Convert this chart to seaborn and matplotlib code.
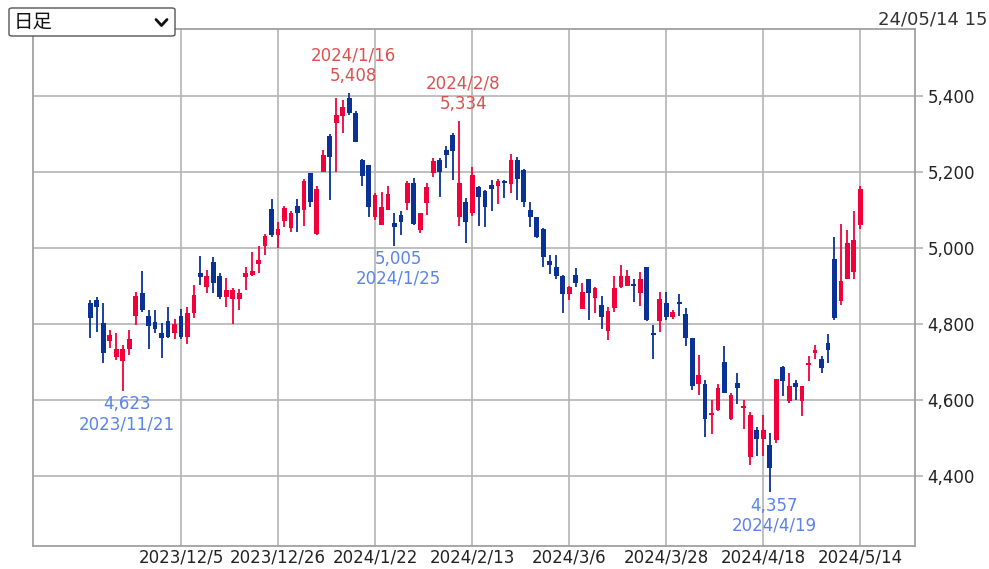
import numpy as np
import pandas as pd
import matplotlib
matplotlib.use("Agg")
import matplotlib.pyplot as plt
import seaborn as sns
from matplotlib.patches import FancyBboxPatch
from matplotlib.lines import Line2D

# trading days (TSE holidays removed)
holidays = ["2023-11-23", "2024-01-01", "2024-01-02", "2024-01-03", "2024-01-08",
            "2024-02-12", "2024-02-23", "2024-03-20", "2024-04-29", "2024-05-03",
            "2024-05-06"]
dates = pd.bdate_range("2023-11-14", "2024-05-14", freq="C", holidays=holidays)

opens = [4856, 4863, 4802, 4755, 4714, 4703, 4734, 4821, 4881, 4821,
         4806, 4777, 4809, 4777, 4821, 4765, 4828, 4933, 4898, 4962,
         4925, 4872, 4867, 4867, 4924, 4928, 4958, 5004, 5102, 5034,
         5072, 5052, 5111, 5100, 5198, 5037, 5201, 5295, 5328, 5346,
         5394, 5354, 5232, 5218, 5082, 5061, 5100, 5065, 5087, 5118,
         5170, 5047, 5118, 5196, 5232, 5258, 5297, 5082, 5122, 5091,
         5161, 5151, 5165, 5163, 5177, 5168, 5232, 5205, 5100, 5082,
         5049, 4967, 4951, 4925, 4879, 4929, 4839, 4918, 4868, 4849,
         4782, 4841, 4898, 4900, 4905, 4881, 4949, 4777, 4809, 4854,
         4819, 4859, 4826, 4762, 4642, 4642, 4560, 4574, 4701, 4551,
         4646, 4579, 4451, 4521, 4497, 4482, 4495, 4688, 4598, 4646,
         4598, 4691, 4723, 4707, 4749, 4970, 4861, 4919, 4938, 5061]
highs = [4862, 4872, 4854, 4785, 4777, 4745, 4784, 4885, 4940, 4837,
         4837, 4802, 4845, 4812, 4839, 4846, 4903, 4979, 4942, 4977,
         4933, 4920, 4894, 4891, 4950, 4990, 5005, 5037, 5128, 5069,
         5111, 5098, 5128, 5181, 5198, 5163, 5258, 5300, 5394, 5389,
         5408, 5359, 5233, 5218, 5144, 5148, 5163, 5093, 5096, 5175,
         5183, 5091, 5172, 5236, 5236, 5267, 5303, 5334, 5131, 5214,
         5163, 5153, 5179, 5181, 5179, 5247, 5240, 5207, 5122, 5082,
         5052, 4982, 4982, 4929, 4900, 4947, 4909, 4918, 4898, 4874,
         4846, 4925, 4955, 4942, 4918, 4938, 4949, 4797, 4885, 4885,
         4837, 4879, 4841, 4762, 4718, 4653, 4600, 4642, 4742, 4618,
         4670, 4600, 4569, 4530, 4561, 4512, 4654, 4690, 4672, 4653,
         4637, 4716, 4745, 4716, 4774, 5030, 5063, 5047, 5098, 5163]
lows = [4762, 4780, 4698, 4737, 4705, 4623, 4718, 4797, 4832, 4734,
        4777, 4710, 4762, 4760, 4760, 4747, 4815, 4903, 4881, 4881,
        4867, 4846, 4800, 4838, 4889, 4926, 4933, 4982, 5030, 4999,
        5056, 5043, 5043, 5058, 5109, 5034, 5201, 5126, 5201, 5303,
        5350, 5280, 5163, 5082, 5074, 5061, 5100, 5005, 5034, 5100,
        5061, 5039, 5087, 5186, 5135, 5210, 5179, 5058, 5014, 5083,
        5058, 5054, 5098, 5116, 5131, 5144, 5126, 5109, 5056, 5025,
        4951, 4932, 4918, 4830, 4863, 4898, 4839, 4811, 4828, 4786,
        4758, 4832, 4894, 4900, 4859, 4847, 4809, 4707, 4780, 4811,
        4812, 4821, 4742, 4626, 4613, 4504, 4511, 4572, 4618, 4547,
        4590, 4523, 4429, 4453, 4453, 4357, 4486, 4611, 4593, 4600,
        4558, 4651, 4707, 4670, 4698, 4811, 4850, 4918, 4918, 5049]
closes = [4815, 4846, 4723, 4770, 4733, 4733, 4760, 4874, 4837, 4795,
          4786, 4762, 4765, 4800, 4765, 4830, 4876, 4924, 4927, 4907,
          4872, 4889, 4889, 4882, 4935, 4940, 4968, 5032, 5034, 5049,
          5106, 5093, 5093, 5175, 5122, 5154, 5245, 5240, 5350, 5370,
          5354, 5280, 5188, 5109, 5140, 5109, 5141, 5056, 5069, 5170,
          5063, 5091, 5161, 5229, 5201, 5245, 5254, 5170, 5069, 5192,
          5135, 5109, 5154, 5175, 5172, 5232, 5181, 5122, 5081, 5030,
          4976, 4955, 4925, 4879, 4898, 4907, 4885, 4882, 4894, 4819,
          4835, 4894, 4925, 4926, 4900, 4918, 4811, 4771, 4865, 4819,
          4832, 4853, 4762, 4637, 4666, 4549, 4565, 4631, 4618, 4613,
          4631, 4584, 4561, 4497, 4521, 4420, 4654, 4651, 4637, 4635,
          4637, 4697, 4732, 4684, 4732, 4815, 4914, 5014, 5021, 5154]

tick_dates = ["2023-12-05", "2023-12-26", "2024-01-22", "2024-02-13",
              "2024-03-06", "2024-03-28", "2024-04-18", "2024-05-14"]
tick_labels = ["2023/12/5", "2023/12/26", "2024/1/22", "2024/2/13",
               "2024/3/6", "2024/3/28", "2024/4/18", "2024/5/14"]
price_ticks = [4400, 4600, 4800, 5000, 5200, 5400]

mark_dates = ["2024-01-16", "2024-02-08", "2023-11-21", "2024-01-25", "2024-04-19"]
mark_labels = ["2024/1/16", "2024/2/8", "2023/11/21", "2024/1/25", "2024/4/19"]
mark_values = [5408, 5334, 4623, 5005, 4357]
mark_kinds = ["high", "high", "low", "low", "low"]

df = pd.DataFrame({"date": dates, "open": opens, "high": highs,
                   "low": lows, "close": closes})
df["x"] = np.arange(len(df))
df["up"] = df["close"] >= df["open"]

sns.set_theme(style="white")
plt.rcParams["font.family"] = ["DejaVu Sans", "Noto Sans CJK JP"]

RED = "#f2003c"
BLUE = "#0a3296"
GRID = "#b4b4b4"
FS = 12

W, H = 989, 569
fig = plt.figure(figsize=(W / 100, H / 100), dpi=100)
ax = fig.add_axes([33 / W, 1 - 546 / H, (915 - 33) / W, (546 - 29) / H])

colors = np.where(df["up"], RED, BLUE)
ax.vlines(df["x"], df["low"], df["high"], colors=colors, linewidth=1.3, zorder=3)
diff = (df["close"] - df["open"]).abs()
body = np.maximum(diff, 4)
bottom = np.minimum(df["open"], df["close"]) - (body - diff) / 2
ax.bar(df["x"], body, bottom=bottom, width=0.74, color=colors, linewidth=0, zorder=4)

ax.set_xlim(-8.87, 127.45)
ax.set_ylim(4216, 5576)

pos = {d: i for i, d in enumerate(df["date"].dt.strftime("%Y-%m-%d"))}
ax.set_xticks([pos[d] for d in tick_dates])
ax.set_xticklabels(tick_labels)
ax.set_yticks(price_ticks)
ax.set_yticklabels([f"{v:,}" for v in price_ticks])
ax.yaxis.tick_right()
ax.tick_params(axis="y", length=6, width=1.2, color=GRID, pad=3, labelsize=FS,
               labelcolor="#222222")
ax.tick_params(axis="x", length=0, pad=2, labelsize=FS, labelcolor="#222222")
ax.grid(True, color=GRID, linewidth=1.2, zorder=0)
ax.set_axisbelow(True)
for s in ax.spines.values():
    s.set_color("#a0a0a0")
    s.set_linewidth(1.3)

for d, lab, v, kind in zip(mark_dates, mark_labels, mark_values, mark_kinds):
    x = pos[d]
    if kind == "high":
        ax.annotate(f"{lab}\n{v:,}", xy=(x, v), xytext=(3, 6),
                    textcoords="offset points", ha="center", va="bottom",
                    color="#dc5050", fontsize=FS, linespacing=1.12, zorder=6)
    else:
        ax.annotate(f"{v:,}\n{lab}", xy=(x, v), xytext=(3, -3),
                    textcoords="offset points", ha="center", va="top",
                    color="#5a82f0", fontsize=FS, linespacing=1.12, zorder=6)

# dropdown box at the top left
box = FancyBboxPatch((9 / W, 1 - 36 / H), 166 / W, 28 / H,
                     boxstyle="round,pad=0,rounding_size=0.003",
                     transform=fig.transFigure, facecolor="white",
                     edgecolor="#555555", linewidth=1.0, zorder=10)
fig.patches.append(box)
fig.text(14 / W, 1 - 22 / H, "日足", fontsize=14, va="center", ha="left",
         color="#111111", zorder=11)
fig.lines.append(Line2D([156 / W, 161.5 / W, 167 / W],
                        [1 - 19.5 / H, 1 - 25.5 / H, 1 - 19.5 / H],
                        transform=fig.transFigure, color="#111111",
                        linewidth=2.0, zorder=11))

fig.text(878 / W, 1 - 19 / H, "24/05/14 15:00", fontsize=13, va="center",
         ha="left", color="#333333")

fig.savefig("out.png", dpi=100, facecolor="white")
